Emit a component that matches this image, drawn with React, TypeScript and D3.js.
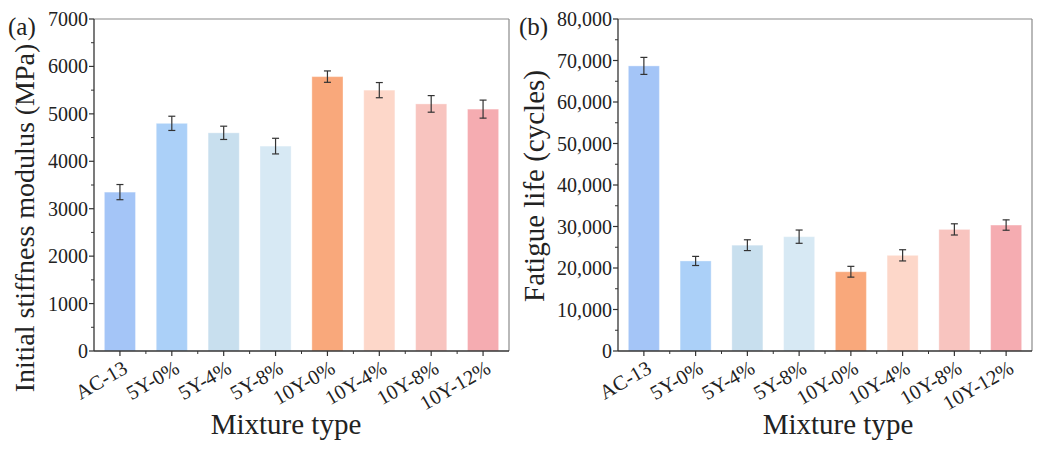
import React from 'react';
import * as d3 from 'd3';

const categories = ['AC-13', '5Y-0%', '5Y-4%', '5Y-8%', '10Y-0%', '10Y-4%', '10Y-8%', '10Y-12%'];
const barColors = ['#a4c5f7', '#abd0f8', '#c8dfee', '#d7e9f4', '#f9a87b', '#fdd7c9', '#f8c4bf', '#f5acb1'];

const stiffness = [3350, 4800, 4600, 4320, 5785, 5500, 5210, 5100];
const stiffnessErr = [160, 150, 140, 165, 120, 160, 175, 190];
const stiffnessTicks = [0, 1000, 2000, 3000, 4000, 5000, 6000, 7000];

const fatigue = [68700, 21700, 25500, 27550, 19100, 23050, 29300, 30350];
const fatigueErr = [2050, 1100, 1300, 1600, 1300, 1350, 1350, 1250];
const fatigueTicks = [0, 10000, 20000, 30000, 40000, 50000, 60000, 70000, 80000];

const FONT = '"Liberation Serif", "Times New Roman", serif';

interface PanelProps {
  left: number;
  right: number;
  top: number;
  bottom: number;
  values: number[];
  errors: number[];
  ticks: number[];
  fmt: (v: number) => string;
  yTitle: string;
  yTitleSize: number;
  yTitleX: number;
  yTitleY: number;
  xTitleX: number;
  tag: string;
  tagX: number;
}

const Panel: React.FC<PanelProps> = (p) => {
  const x = d3.scaleBand<string>().domain(categories).range([p.left, p.right]).paddingInner(0.4).paddingOuter(0.2);
  const max = p.ticks[p.ticks.length - 1];
  const y = d3.scaleLinear().domain([0, max]).range([p.bottom, p.top]);
  const step = p.ticks[1] - p.ticks[0];
  const minor = p.ticks.slice(0, -1).map((t) => t + step / 2);
  const bw = x.bandwidth();
  // minor ticks sit between categories
  const boundaries = categories.slice(1).map((c) => (x(c) as number) - (x.step() - bw) / 2);

  return (
    <g>
      {categories.map((c, i) => (
        <rect key={c} x={x(c)} y={y(p.values[i])} width={bw} height={p.bottom - y(p.values[i])}
          fill={barColors[i]} stroke="#fff" strokeOpacity={0.35} strokeWidth={1} />
      ))}
      {categories.map((c, i) => {
        const cx = (x(c) as number) + bw / 2;
        const hi = y(p.values[i] + p.errors[i]);
        const lo = y(p.values[i] - p.errors[i]);
        return (
          <g key={c} stroke="#333" strokeWidth={1.2}>
            <line x1={cx} x2={cx} y1={hi} y2={lo} />
            <line x1={cx - 3.5} x2={cx + 3.5} y1={hi} y2={hi} />
            <line x1={cx - 3.5} x2={cx + 3.5} y1={lo} y2={lo} />
          </g>
        );
      })}
      <line x1={p.left} x2={p.right} y1={p.top} y2={p.top} stroke="#8a8a8a" strokeWidth={1.2} />
      <line x1={p.right} x2={p.right} y1={p.top} y2={p.bottom} stroke="#8a8a8a" strokeWidth={1.2} />
      <line x1={p.left} x2={p.left} y1={p.top} y2={p.bottom} stroke="#333" strokeWidth={1.3} />
      <line x1={p.left} x2={p.right} y1={p.bottom} y2={p.bottom} stroke="#333" strokeWidth={1.3} />
      {p.ticks.map((t) => (
        <g key={t}>
          <line x1={p.left - 5} x2={p.left} y1={y(t)} y2={y(t)} stroke="#333" strokeWidth={1.2} />
          <text x={p.left - 6} y={y(t)} dy="0.35em" textAnchor="end" fontSize={20} fill="#222" fontFamily={FONT}>
            {p.fmt(t)}
          </text>
        </g>
      ))}
      {minor.map((t) => (
        <line key={t} x1={p.left - 3} x2={p.left} y1={y(t)} y2={y(t)} stroke="#333" strokeWidth={1} />
      ))}
      {boundaries.map((bx, i) => (
        <line key={i} x1={bx} x2={bx} y1={p.bottom} y2={p.bottom + 3} stroke="#333" strokeWidth={1} />
      ))}
      {categories.map((c) => {
        const cx = (x(c) as number) + bw / 2;
        return (
          <g key={c}>
            <line x1={cx} x2={cx} y1={p.bottom} y2={p.bottom + 5} stroke="#333" strokeWidth={1.2} />
            <text transform={`translate(${cx + 9},${p.bottom + 21}) rotate(-30)`} textAnchor="end"
              fontSize={20.5} fill="#222" fontFamily={FONT}>
              {c}
            </text>
          </g>
        );
      })}
      <text transform={`translate(${p.yTitleX},${p.yTitleY}) rotate(-90)`} textAnchor="middle"
        fontSize={p.yTitleSize} fill="#222" fontFamily={FONT}>
        {p.yTitle}
      </text>
      <text x={p.xTitleX} y={434} textAnchor="middle" fontSize={29} fill="#222" fontFamily={FONT}>
        Mixture type
      </text>
      <text x={p.tagX} y={35} fontSize={25} fill="#222" fontFamily={FONT}>
        {p.tag}
      </text>
    </g>
  );
};

const App: React.FC = () => {
  const comma = d3.format(',');
  return (
    <svg width={1043} height={452} style={{ position: 'absolute', left: 0, top: 0, background: '#fff' }}>
      <Panel left={94} right={509} top={19} bottom={351} values={stiffness} errors={stiffnessErr}
        ticks={stiffnessTicks} fmt={(v) => String(v)} yTitle="Initial stiffness modulus (MPa)"
        yTitleSize={28} yTitleX={34} yTitleY={218} xTitleX={286} tag="(a)" tagX={8} />
      <Panel left={618} right={1032} top={19} bottom={351} values={fatigue} errors={fatigueErr}
        ticks={fatigueTicks} fmt={comma} yTitle="Fatigue life (cycles)"
        yTitleSize={29} yTitleX={544} yTitleY={186} xTitleX={838} tag="(b)" tagX={519} />
    </svg>
  );
};

export default App;
